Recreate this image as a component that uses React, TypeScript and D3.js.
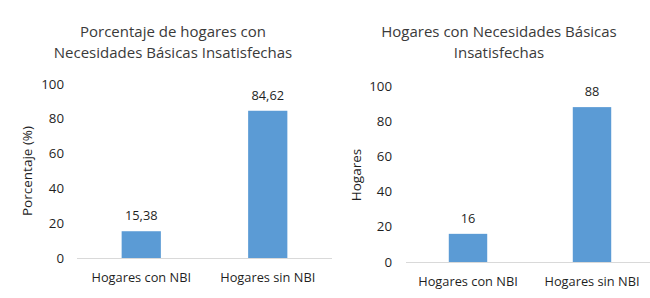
import React from "react";
import * as d3 from "d3";

const categories = ["Hogares con NBI", "Hogares sin NBI"];
const pctValues = [15.38, 84.62];
const countValues = [16, 88];
const yTicks = [0, 20, 40, 60, 80, 100];
const leftTitle = ["Porcentaje de hogares con", "Necesidades Básicas Insatisfechas"];
const rightTitle = ["Hogares con Necesidades Básicas", "Insatisfechas"];

const FONT = "'Open Sans', sans-serif";
const BAR = "#5B9BD5";
const TEXT = "#1f1f1f";

type PanelProps = {
  values: number[];
  labels: string[];
  title: string[];
  yTitle: string;
  x0: number; x1: number;
  yTop: number; yBottom: number;
  titleX: number;
  yTitleX: number; yTitleY: number;
  tickRight: number;
  axisStart: number; axisEnd: number;
};

function Panel(p: PanelProps) {
  const x = d3.scaleBand<string>().domain(categories).range([p.x0, p.x1]).paddingInner(0.69).paddingOuter(0.345);
  const y = d3.scaleLinear().domain([0, 100]).range([p.yBottom, p.yTop]);
  return (
    <g>
      {p.title.map((t, i) => (
        <text key={i} x={p.titleX} y={37 + i * 21} textAnchor="middle" fontFamily={FONT} fontSize={15} fill="#3a3a3a">{t}</text>
      ))}
      <text transform={`translate(${p.yTitleX},${p.yTitleY}) rotate(-90)`} textAnchor="middle" fontFamily={FONT} fontSize={13.5} fill={TEXT}>{p.yTitle}</text>
      {yTicks.map((t) => (
        <text key={t} x={p.tickRight} y={y(t)} dy="0.35em" textAnchor="end" fontFamily={FONT} fontSize={13.3} fill={TEXT}>{t}</text>
      ))}
      <line x1={p.axisStart} x2={p.axisEnd} y1={y(0) + 0.5} y2={y(0) + 0.5} stroke="#d9d9d9" strokeWidth={1} />
      {categories.map((c, i) => (
        <g key={c}>
          <rect x={x(c)} y={y(p.values[i])} width={x.bandwidth()} height={y(0) - y(p.values[i])} fill={BAR} />
          <text x={(x(c) as number) + x.bandwidth() / 2} y={y(p.values[i]) - 11} textAnchor="middle" fontFamily={FONT} fontSize={12.8} fill={TEXT}>{p.labels[i]}</text>
          <text x={(x(c) as number) + x.bandwidth() / 2} y={y(0) + 24} textAnchor="middle" fontFamily={FONT} fontSize={12.8} fill={TEXT}>{c}</text>
        </g>
      ))}
    </g>
  );
}

export default function App() {
  return (
    <svg width={650} height={298} style={{ position: "absolute", left: 0, top: 0, background: "#fff" }}>
      <rect width={650} height={298} fill="#fff" />
      <Panel
        values={pctValues}
        labels={pctValues.map((v) => d3.format(".2f")(v).replace(".", ","))}
        title={leftTitle}
        yTitle="Porcentaje (%)"
        x0={78} x1={331} yTop={84} yBottom={258}
        titleX={173} yTitleX={32} yTitleY={171}
        tickRight={64} axisStart={77} axisEnd={332}
      />
      <Panel
        values={countValues}
        labels={countValues.map((v) => String(v))}
        title={rightTitle}
        yTitle="Hogares"
        x0={406} x1={654} yTop={86} yBottom={262}
        titleX={499} yTitleX={361} yTitleY={175}
        tickRight={392} axisStart={406} axisEnd={650}
      />
    </svg>
  );
}
